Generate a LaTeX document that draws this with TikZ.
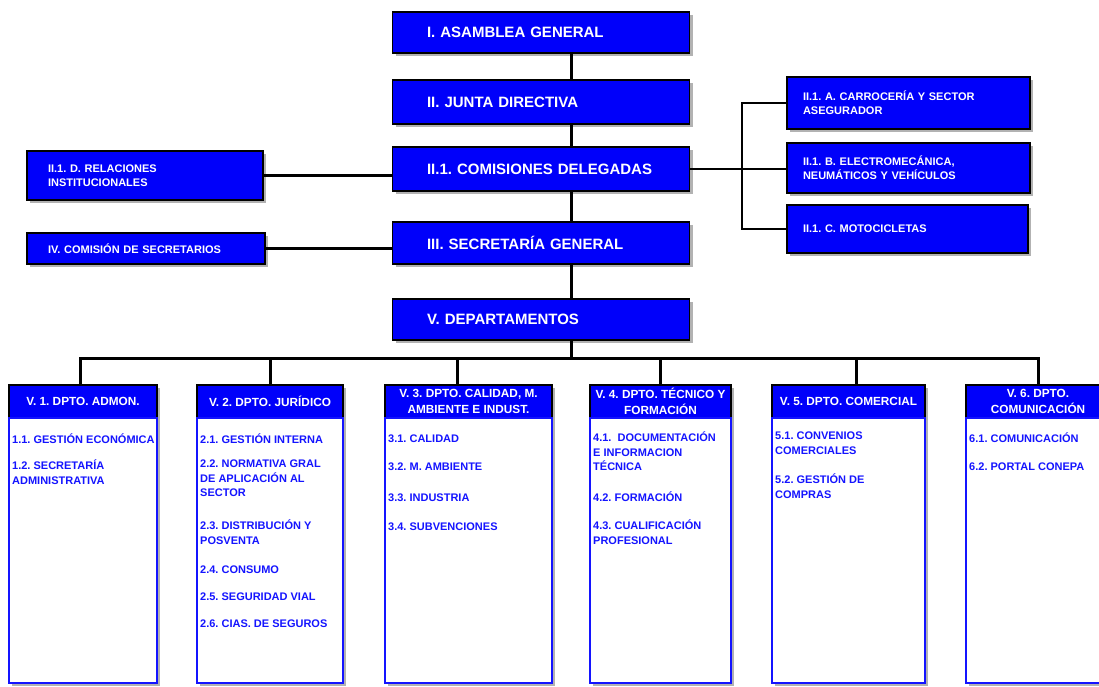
\documentclass[tikz,border=0pt]{standalone}
\usepackage{fontspec}
\setmainfont{Liberation Sans}
\usetikzlibrary{shadows}
\definecolor{fblue}{RGB}{0,0,250}
\definecolor{tblue}{RGB}{20,20,255}
\frenchspacing
\begin{document}
\begin{tikzpicture}[x=1pt,y=-1pt,
  shad/.style={drop shadow={shadow xshift=3pt,shadow yshift=-3pt,fill=black!30,opacity=1}},
  topbox/.style={shad,draw=black,line width=1.5pt,fill=fblue,text=white,font=\bfseries\fontsize{15}{18}\selectfont,inner xsep=34.5pt,text width=228pt,align=left,inner ysep=0pt},
  sidebox/.style={shad,draw=black,line width=1.5pt,fill=fblue,text=white,font=\bfseries\fontsize{11}{14}\selectfont,align=left,inner ysep=0pt},
  dhead/.style={shad,draw=black,line width=2pt,fill=fblue,text=white,font=\bfseries\fontsize{11.8}{16.5}\selectfont,align=center,minimum height=33pt,inner sep=0pt},
  dbody/.style={shad,draw=tblue,line width=1.5pt,fill=white,minimum height=265pt,inner sep=0pt},
  item/.style={anchor=north west,inner sep=0pt,text=tblue,font=\bfseries\fontsize{11}{14.5}\selectfont,align=left,execute at begin node=\strut},
  conn/.style={draw=black,line width=3pt},
  thinconn/.style={draw=black,line width=1.6pt}
]
\useasboundingbox (0,0) rectangle (1099,686);

% top column
\node[topbox,minimum height=41pt] (asam) at (541,32.5) {I. ASAMBLEA GENERAL};
\node[topbox,minimum height=44pt] (junta) at (541,102) {II. JUNTA DIRECTIVA};
\node[topbox,minimum height=44pt] (com) at (541,169) {II.1. COMISIONES DELEGADAS};
\node[topbox,minimum height=42pt] (sec) at (541,243) {III. SECRETARÍA GENERAL};
\node[topbox,minimum height=41pt] (dep) at (541,319.5) {V. DEPARTAMENTOS};

% side boxes
\node[sidebox,inner xsep=21pt,text width=194pt,minimum height=49pt] (rel) at (145,175.5) {II.1. D. RELACIONES\\INSTITUCIONALES};
\node[sidebox,inner xsep=21pt,text width=196pt,minimum height=31pt] (iv) at (146,248.5) {IV. COMISIÓN DE SECRETARIOS};
\node[sidebox,inner xsep=16pt,text width=211pt,minimum height=52pt] (ca) at (908.5,103) {II.1. A. CARROCERÍA Y SECTOR\\ASEGURADOR};
\node[sidebox,inner xsep=16pt,text width=211pt,minimum height=50pt] (cb) at (908.5,168) {II.1. B. ELECTROMECÁNICA,\\NEUMÁTICOS Y VEHÍCULOS};
\node[sidebox,inner xsep=16pt,text width=209pt,minimum height=48pt] (cc) at (907.5,229) {II.1. C. MOTOCICLETAS};

% departments
\node[dhead,minimum width=148pt] (d1h) at (83,401.5) {V. 1. DPTO. ADMON.};
\node[dbody,minimum width=148pt] (d1b) at (83,550.5) {};
\node[dhead,minimum width=146pt] (d2h) at (270,401.5) {V. 2. DPTO. JURÍDICO};
\node[dbody,minimum width=146pt] (d2b) at (270,550.5) {};
\node[dhead,minimum width=167pt] (d3h) at (468.5,401.5) {V. 3. DPTO. CALIDAD, M.\\AMBIENTE E INDUST.};
\node[dbody,minimum width=167pt] (d3b) at (468.5,550.5) {};
\node[dhead,minimum width=141pt] (d4h) at (660.5,401.5) {V. 4. DPTO. TÉCNICO Y\\FORMACIÓN};
\node[dbody,minimum width=141pt] (d4b) at (660.5,550.5) {};
\node[dhead,minimum width=153pt] (d5h) at (848.5,401.5) {V. 5. DPTO. COMERCIAL};
\node[dbody,minimum width=153pt] (d5b) at (848.5,550.5) {};
\node[dhead,minimum width=144pt] (d6h) at (1038,401.5) {V. 6. DPTO.\\COMUNICACIÓN};
\node[dbody,minimum width=144pt] (d6b) at (1038,550.5) {};

% items
\node[item] (i11) at (12,433) {1.1. GESTIÓN ECONÓMICA};
\node[item] (i12) at (12,460) {1.2. SECRETARÍA\\ADMINISTRATIVA};

\node[item] (i21) at (200,433) {2.1. GESTIÓN INTERNA};
\node[item] (i22) at (200,460) {2.2. NORMATIVA GRAL\\DE APLICACIÓN AL\\SECTOR};
\node[item] (i23) at (200,520) {2.3. DISTRIBUCIÓN Y\\POSVENTA};
\node[item] (i24) at (200,563) {2.4. CONSUMO};
\node[item] (i25) at (200,590) {2.5. SEGURIDAD VIAL};
\node[item] (i26) at (200,617) {2.6. CIAS. DE SEGUROS};

\node[item] (i31) at (388,432) {3.1. CALIDAD};
\node[item] (i32) at (388,460) {3.2. M. AMBIENTE};
\node[item] (i33) at (388,491) {3.3. INDUSTRIA};
\node[item] (i34) at (388,520) {3.4. SUBVENCIONES};

\node[item] (i41) at (593,432) {4.1.\ \ DOCUMENTACIÓN\\E INFORMACION\\TÉCNICA};
\node[item] (i42) at (593,491) {4.2. FORMACIÓN};
\node[item] (i43) at (593,520) {4.3. CUALIFICACIÓN\\PROFESIONAL};

\node[item] (i51) at (775,432) {5.1. CONVENIOS\\COMERCIALES};
\node[item] (i52) at (775,474) {5.2. GESTIÓN DE\\COMPRAS};

\node[item] (i61) at (969,432) {6.1. COMUNICACIÓN};
\node[item] (i62) at (969,460) {6.2. PORTAL CONEPA};

% main vertical connectors
\draw[conn] ([xshift=30pt]asam.south) -- ([xshift=30pt]junta.north);
\draw[conn] ([xshift=30pt]junta.south) -- ([xshift=30pt]com.north);
\draw[conn] ([xshift=30pt]com.south) -- ([xshift=30pt]sec.north);
\draw[conn] ([xshift=30pt]sec.south) -- ([xshift=30pt]dep.north);

% side connectors
\draw[conn] (rel.east) -- (rel.east -| com.west);
\draw[conn] (iv.east) -- (iv.east -| sec.west);
\coordinate (bx) at (742,169);
\draw[thinconn] (com.east) -- (com.east -| cb.west);
\draw[thinconn] (ca.west) -| (bx) |- (cc.west);

% department bar
\coordinate (bar) at (571,358);
\draw[conn] ([xshift=30pt]dep.south) -- (bar);
\draw[conn] ([xshift=-3pt]d1h.north) |- (d6h.north |- bar) -- (d6h.north);
\draw[conn] (d2h.north) -- (d2h.north |- bar);
\draw[conn] ([xshift=-11.5pt]d3h.north) -- ([xshift=-11.5pt]d3h.north |- bar);
\draw[conn] (d4h.north) -- (d4h.north |- bar);
\draw[conn] ([xshift=7.5pt]d5h.north) -- ([xshift=7.5pt]d5h.north |- bar);
\end{tikzpicture}
\end{document}
